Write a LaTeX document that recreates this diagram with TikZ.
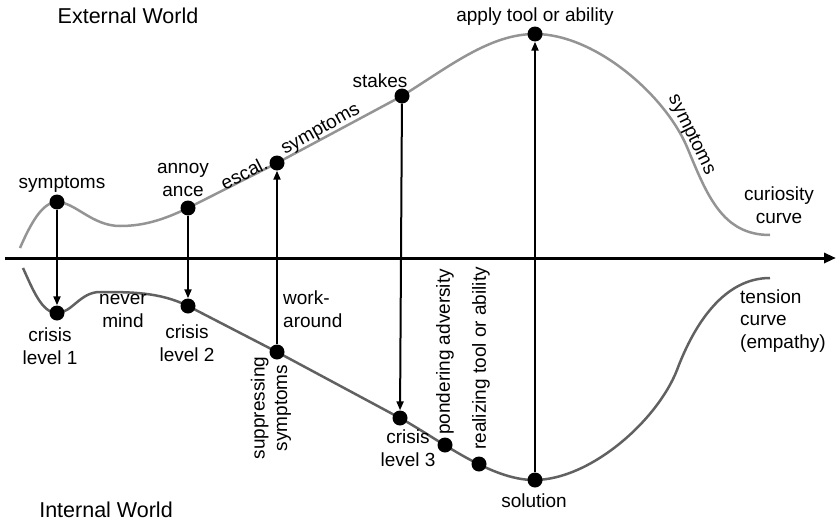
\documentclass[tikz,border=0pt]{standalone}
\usepackage{fontspec}
\setmainfont{Liberation Sans}
\usetikzlibrary{arrows.meta}
\begin{document}
\begin{tikzpicture}[x=1pt,y=-1pt,
  dot/.style={circle,fill=black,inner sep=0pt,minimum size=15pt},
  lbl/.style={font=\fontsize{19}{22.5}\selectfont,align=center,inner sep=0pt},
  world/.style={font=\fontsize{21.5}{25}\selectfont,inner sep=0pt},
  arr/.style={line width=2pt,-{Triangle[length=9pt,width=7pt]}},
  uppercurve/.style={line width=2.5pt,color=black!42,line join=round},
  lowercurve/.style={line width=2.5pt,color=black!62,line join=round},
  axis/.style={line width=3pt,-{Triangle[length=12pt,width=10pt]}}
]
\useasboundingbox (0,0) rectangle (836,522);

% axis
\coordinate (ax0) at (5,258);
\coordinate (ax1) at (836,258);
\draw[axis] (ax0) -- (ax1);

% curves
\draw[uppercurve] (20,248) .. controls (30,225) and (42,202) .. (57,202)
  .. controls (75,202) and (92,226) .. (120,226)
  .. controls (145,226) and (165,219) .. (188,208)
  -- (277,163) -- (402,96)
  .. controls (450,66) and (490,34) .. (535,34)
  .. controls (595,34) and (665,95) .. (687,147)
  .. controls (707,195) and (722,235) .. (770,235);
\draw[lowercurve] (23,268) .. controls (33,290) and (42,313) .. (57,313)
  .. controls (72,313) and (80,292) .. (100,292)
  .. controls (130,292) and (160,292) .. (188,306)
  -- (277,352) -- (400,418)
  .. controls (440,440) and (490,480) .. (534,480)
  .. controls (590,480) and (657,421) .. (677,370)
  .. controls (695,322) and (725,278) .. (770,278);

% dots
\node[dot] (s1) at (57,202) {};
\node[dot] (c1) at (57,313) {};
\node[dot] (s2) at (188,208) {};
\node[dot] (c2) at (188,306) {};
\node[dot] (s3) at (277,163) {};
\node[dot] (c3) at (277,352) {};
\node[dot] (s4) at (402,96) {};
\node[dot] (c4) at (400,418) {};
\node[dot] (s5) at (535,34) {};
\node[dot] (c5) at (535,480) {};
\node[dot] (p1) at (445,445) {};
\node[dot] (p2) at (479,464) {};

% arrows
\draw[arr] (s1) -- (c1);
\draw[arr] (s2) -- (c2);
\draw[arr] (c3) -- (s3);
\draw[arr] (s4) -- (c4);
\draw[arr] (c5) -- (s5);

% labels
\node[world] (ext) at (128,16) {External World};
\node[world] (int) at (106,510) {Internal World};

\node[lbl] (l1) at (62,184) {symptoms};
\node[lbl] (l2) at (183,180) {annoy\\ance};
\node[lbl,rotate=27] (l3) at (244,173) {escal.};
\node[lbl,rotate=29] (l4) at (321,130) {symptoms};
\node[lbl] (l5) at (380,81) {stakes};
\node[lbl] (l6) at (535,17) {apply tool or ability};
\node[lbl,rotate=-64] (l7) at (691,135) {symptoms};
\node[lbl] (l8) at (779,205) {curiosity\\curve};
\node[lbl,align=left,anchor=west] (l9) at (740,321) {tension\\curve\\(empathy)};
\node[lbl] (l10) at (50,346) {crisis\\level 1};
\node[lbl] (l11) at (123,311) {never\\mind};
\node[lbl] (l12) at (187,343) {crisis\\level 2};
\node[lbl,align=left,anchor=west] (l13) at (283,309) {work-\\around};
\node[lbl,rotate=90] (l14) at (271,408) {suppressing\\symptoms};
\node[lbl] (l15) at (408,448) {crisis\\level 3};
\node[lbl,rotate=90,anchor=west] (l16) at (445,435) {pondering adversity};
\node[lbl,rotate=90,anchor=west] (l17) at (481,450) {realizing tool or ability};
\node[lbl] (l18) at (534,501) {solution};
\end{tikzpicture}
\end{document}
